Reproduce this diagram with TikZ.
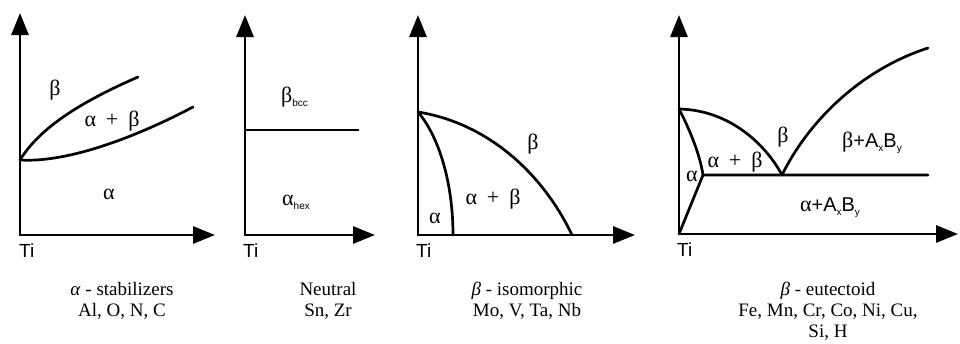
\documentclass[tikz,border=0pt]{standalone}
\usepackage{fontspec}
\setmainfont{Liberation Serif}
\newfontfamily\lsans{Liberation Sans}
\newfontfamily\lserif{Liberation Serif}
\usetikzlibrary{arrows.meta}
\tikzset{
  axis/.style={line width=2.9pt, line join=miter, {Triangle[length=22pt,width=17pt]}-{Triangle[length=22pt,width=17pt]}},
  curve/.style={line width=2.7pt, line cap=round},
  lab/.style={font=\lserif\fontsize{22}{24}\selectfont, inner sep=0pt},
  tilab/.style={font=\lsans\fontsize{19}{21}\selectfont, inner sep=0pt, anchor=north west},
  captext/.style={font=\fontsize{19}{21}\selectfont, inner sep=0pt, align=center, anchor=north},
}
\newcommand{\subs}[1]{\raisebox{-4pt}{\lsans\fontsize{10}{10}\selectfont #1}}
\newcommand{\apb}{α\hspace{0.45em}+\hspace{0.45em}β}
\newcommand{\plusAB}{{\lsans\fontsize{20}{22}\selectfont +A\subs{x}B\subs{y}}}
\begin{document}
\begin{tikzpicture}[x=1pt,y=-1pt]
\useasboundingbox (0,0) rectangle (960,343);
% ---------- panel 1
\coordinate (t1) at (20,13); \coordinate (o1) at (20,235); \coordinate (r1) at (215,235);
\coordinate (p1) at (20,160); \coordinate (u1) at (138,77); \coordinate (l1) at (193,107);
\draw[axis] (t1) -- (o1) -- (r1);
\draw[curve] (p1) .. controls (42,124) and (90,98) .. (u1);
\draw[curve] (p1) .. controls (70,163) and (140,135) .. (l1);
\node[lab] (b1) at (55,90) {β};
\node[lab] (ab1) at (112,121) {\apb};
\node[lab] (a1) at (109,194) {α};
\node[tilab] (ti1) at (19,244) {Ti};
\node[captext] (c1) at (122,282) {\textit{α} - stabilizers\\Al, O, N, C};
% ---------- panel 2
\coordinate (t2) at (245,15); \coordinate (o2) at (245,235); \coordinate (r2) at (375,235);
\coordinate (h2a) at (245,130); \coordinate (h2b) at (359,130);
\draw[axis] (t2) -- (o2) -- (r2);
\draw[curve, line cap=butt] (h2a) -- (h2b);
\node[lab, anchor=west] (b2) at (281,97) {β\subs{bcc}};
\node[lab, anchor=west] (a2) at (282,202) {α\subs{hex}};
\node[tilab] (ti2) at (243,244) {Ti};
\node[captext] (c2) at (328,282) {Neutral\\Sn, Zr};
% ---------- panel 3
\coordinate (t3) at (418,15); \coordinate (o3) at (418,235); \coordinate (r3) at (635,235);
\coordinate (p3) at (418,112); \coordinate (i3) at (453,235); \coordinate (e3) at (572,235);
\draw[axis] (t3) -- (o3) -- (r3);
\draw[curve] (p3) .. controls (440,138) and (453,185) .. (i3);
\draw[curve] (p3) .. controls (492,124) and (545,178) .. (e3);
\node[lab] (b3) at (533,144) {β};
\node[lab] (ab3) at (493,199) {\apb};
\node[lab] (a3) at (435,218) {α};
\node[tilab] (ti3) at (416,244) {Ti};
\node[captext] (c3) at (527,282) {\textit{β} - isomorphic\\Mo, V, Ta, Nb};
% ---------- panel 4
\coordinate (t4) at (679,15); \coordinate (o4) at (679,234); \coordinate (r4) at (958,234);
\coordinate (p4) at (679,109); \coordinate (tp4) at (703,175); \coordinate (eu4) at (782,175);
\coordinate (h4) at (928,175); \coordinate (rc4) at (928,48);
\draw[axis] (t4) -- (o4) -- (r4);
\draw[curve] (p4) .. controls (730,110) and (766,145) .. (eu4);
\draw[curve] (p4) .. controls (690,130) and (700,155) .. (tp4);
\draw[curve, line join=miter] (o4) -- (tp4) -- (h4);
\draw[curve] (eu4) .. controls (808,122) and (860,70) .. (rc4);
\node[lab] (b4) at (783,137) {β};
\node[lab] (bab4) at (872,143) {β\plusAB};
\node[lab] (ab4) at (735,162) {\apb};
\node[lab] (a4) at (692,176) {α};
\node[lab] (aab4) at (830,208) {α\plusAB};
\node[tilab] (ti4) at (677,243) {Ti};
\node[captext] (c4) at (828,282) {\textit{β} - eutectoid\\Fe, Mn, Cr, Co, Ni, Cu,\\Si, H};
\end{tikzpicture}
\end{document}
